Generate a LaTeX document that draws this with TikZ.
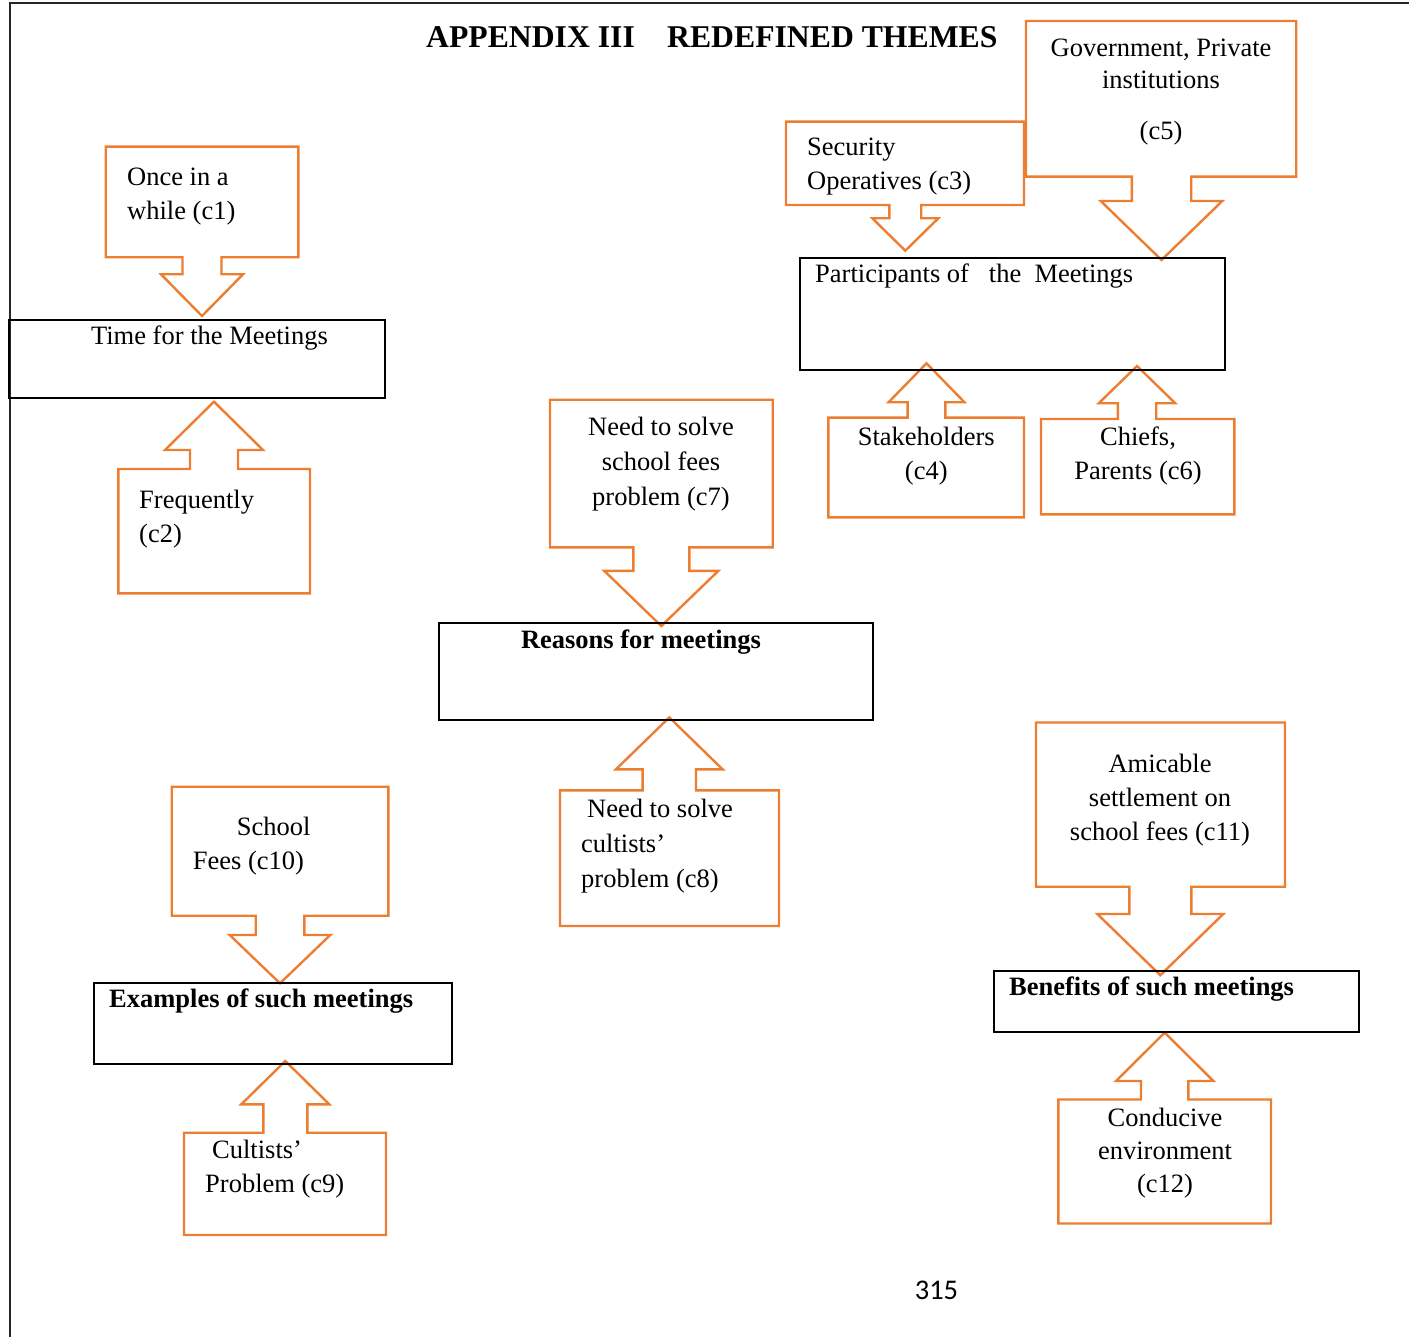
\documentclass[tikz,border=0pt]{standalone}
\usepackage{fontspec}
\setmainfont{Liberation Serif}
\newfontfamily\pagefont{Carlito}
\usepackage{tikz}

\definecolor{themeorange}{HTML}{ED7D31}

% box with an arrow: left, far edge, right, near edge, tip x, shaft half, head half, neck, tip
\newcommand{\themecallout}[9]{%
  \draw[callout] (#1,#2) -- (#3,#2) -- (#3,#4) -- ({#5+#6},#4) -- ({#5+#6},#8)
    -- ({#5+#7},#8) -- (#5,#9) -- ({#5-#7},#8) -- ({#5-#6},#8) -- ({#5-#6},#4)
    -- (#1,#4) -- cycle;}

\begin{document}
\begin{tikzpicture}[x=1pt, y=-1pt,
    callout/.style={themeorange, line width=2.4pt, line join=miter},
    themebox/.style={draw=black, line width=2pt, rectangle, inner sep=0pt},
    celltext/.style={inner sep=0pt, font=\fontsize{26.5}{34}\selectfont},
    boldtext/.style={celltext, font=\fontsize{26.5}{34}\selectfont\bfseries}]
  \useasboundingbox (0,0) rectangle (1409,1337);

  % page frame
  \draw[black!85, line width=2.4pt] (10,1337) -- (10,3) -- (1409,3);

  % title
  \node[inner sep=0pt, anchor=base west, font=\fontsize{31.7}{38}\selectfont\bfseries]
    (title1) at (426,48) {APPENDIX III};
  \node[inner sep=0pt, anchor=base west, font=\fontsize{31.7}{38}\selectfont\bfseries]
    (title2) at (667,48) {REDEFINED THEMES};

  % callouts
  \themecallout{105.7}{146.7}{298.3}{257.3}{202}{19.5}{41}{274.3}{316}
  \themecallout{118.3}{593.3}{310}{469}{214}{24}{49}{450}{401.7}
  \themecallout{786}{121.7}{1024}{205}{905.3}{15.9}{33}{218.3}{250.7}
  \themecallout{1026}{21}{1296.2}{176.7}{1161.5}{29.7}{60.8}{201}{260}
  \themecallout{828.3}{517.3}{1024}{417.7}{926.5}{18.9}{38}{402.3}{363.3}
  \themecallout{1041}{514.3}{1234.3}{419}{1137}{19.2}{38.3}{403.3}{366}
  \themecallout{550}{399.8}{772.7}{547.4}{661.3}{28}{57}{570.9}{626}
  \themecallout{560}{926}{779}{790.4}{669.3}{26.7}{53.3}{769.3}{717.4}
  \themecallout{171.7}{786.7}{388.3}{915.7}{280}{24.3}{50.3}{935}{983.3}
  \themecallout{184}{1235}{386}{1132.7}{285.3}{22}{44}{1104.3}{1061}
  \themecallout{1036}{722.5}{1285}{886.7}{1160.3}{31}{63}{914}{975.2}
  \themecallout{1058.3}{1223.5}{1271}{1099.5}{1164.7}{23.7}{48.7}{1081}{1032.6}

  % theme boxes
  \node[themebox, minimum width=376pt, minimum height=77.7pt] (time) at (197,358.9) {};
  \node[themebox, minimum width=425pt, minimum height=112pt] (part) at (1012.5,314) {};
  \node[themebox, minimum width=434pt, minimum height=97pt] (reason) at (656,671.5) {};
  \node[themebox, minimum width=358pt, minimum height=81pt] (example) at (273,1023.5) {};
  \node[themebox, minimum width=365pt, minimum height=60.6pt] (benefit) at (1176.5,1001.3) {};

  % texts (base = baseline of the last line)
  \node[celltext, anchor=base] (timetext) at (209.5,345) {Time for the Meetings};
  \node[celltext, anchor=base west] (parttext) at (815,283) {Participants of~~~the~~Meetings};
  \node[boldtext, anchor=base] (reasontext) at (641,648) {Reasons for meetings};
  \node[boldtext, anchor=base west] (exampletext) at (109,1007) {Examples of such meetings};
  \node[boldtext, anchor=base west] (benefittext) at (1009,995.5) {Benefits of such meetings};

  \node[celltext, anchor=base west, align=left] (c1) at (127,220) {Once in a\\while (c1)};
  \node[celltext, anchor=base west, align=left] (c2) at (139,542) {Frequently\\(c2)};
  \node[celltext, anchor=base west, align=left] (c3) at (807,190) {Security\\Operatives (c3)};
  \node[celltext, anchor=base, align=center, font=\fontsize{26.5}{32}\selectfont]
    (c5) at (1161,139.3) {Government, Private\\institutions\\[19pt](c5)};
  \node[celltext, anchor=base, align=center] (c4) at (926.3,479) {Stakeholders\\(c4)};
  \node[celltext, anchor=base, align=center] (c6) at (1138,480) {Chiefs,\\Parents (c6)};
  \node[celltext, anchor=base, align=center, font=\fontsize{26.5}{35}\selectfont]
    (c7) at (661,505) {Need to solve\\school fees\\problem (c7)};
  \node[celltext, anchor=base west, align=left, font=\fontsize{26.5}{35}\selectfont]
    (c8) at (581,887) {\hspace*{6pt}Need to solve\\cultists’\\problem (c8)};
  \node[celltext, anchor=base west, align=left] (c10) at (192.7,869) {\hspace*{44pt}School\\Fees (c10)};
  \node[celltext, anchor=base west, align=left] (c9) at (205,1192) {\hspace*{7pt}Cultists’\\Problem (c9)};
  \node[celltext, anchor=base, align=center] (c11) at (1160,840) {Amicable\\settlement on\\school fees (c11)};
  \node[celltext, anchor=base, align=center, font=\fontsize{26.5}{33}\selectfont]
    (c12) at (1165,1192) {Conducive\\environment\\(c12)};

  % page number
  \node[inner sep=0pt, anchor=base, font=\pagefont\fontsize{28.5}{34}\selectfont]
    (pagenum) at (936.5,1299) {315};
\end{tikzpicture}
\end{document}
